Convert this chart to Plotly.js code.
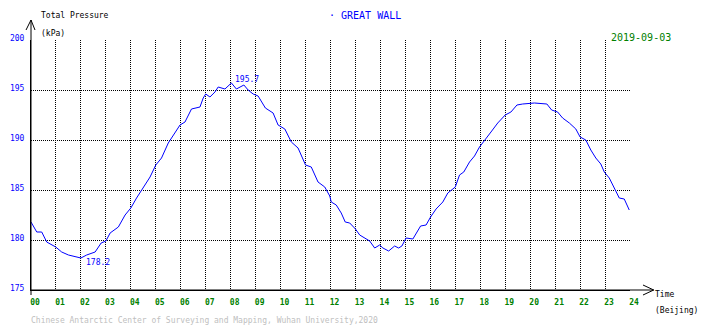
<!DOCTYPE html>
<html>
<head>
<meta charset="utf-8">
<script src="https://cdn.plot.ly/plotly-3.0.1.min.js"></script>
<style>html,body{margin:0;padding:0;background:#fff;}#chart{width:710px;height:328px;}</style>
</head>
<body>
<div id="chart"></div>
<script>
// Time of day (hours, Beijing time)
const hours = [0, 0.23, 0.43, 0.63, 0.99, 1.23, 1.5, 2.0, 2.23, 2.57, 2.81, 3.0, 3.17, 3.5, 3.77, 4.0, 4.23, 4.5, 4.77, 5.0,
  5.23, 5.5, 5.77, 5.97, 6.17, 6.43, 6.77, 6.9, 7.0, 7.17, 7.37, 7.5, 7.77, 8.03, 8.23, 8.53, 8.7, 8.9, 9.1, 9.39,
  9.7, 9.9, 10.17, 10.43, 10.7, 11.0, 11.23, 11.5, 11.77, 11.97, 12.03, 12.23, 12.43, 12.59, 12.77, 13.0, 13.17, 13.37, 13.57, 13.77,
  13.97, 14.1, 14.33, 14.57, 14.73, 14.86, 15.03, 15.3, 15.61, 15.83, 16.01, 16.23, 16.5, 16.7, 17.0, 17.17, 17.34, 17.57, 17.77, 17.97,
  18.17, 18.43, 18.7, 19.0, 19.23, 19.47, 19.7, 19.97, 20.17, 20.67, 20.86, 21.1, 21.3, 21.57, 21.83, 22.0, 22.23, 22.43, 22.63, 22.83,
  22.97, 23.17, 23.37, 23.57, 23.77, 23.97];
// Total pressure (kPa)
const pressure = [181.8, 180.8, 180.8, 179.8, 179.3, 178.8, 178.5, 178.2, 178.5, 178.8, 179.7, 179.9, 180.7, 181.3, 182.5, 183.2, 184.2, 185.3, 186.3, 187.5,
  188.2, 189.7, 190.8, 191.5, 191.8, 193.1, 193.3, 194.2, 194.6, 194.3, 194.8, 195.3, 195.1, 195.7, 195.1, 195.5, 195.0, 194.6, 194.4, 193.2,
  192.7, 191.5, 191.1, 189.8, 189.2, 187.5, 187.3, 185.8, 185.3, 184.4, 183.8, 183.5, 182.7, 181.8, 181.7, 181.1, 180.5, 180.2, 179.9, 179.2,
  179.5, 179.2, 178.9, 179.4, 179.2, 179.4, 180.2, 180.1, 181.4, 181.5, 182.3, 183.1, 183.8, 184.7, 185.3, 186.5, 186.8, 187.8, 188.4, 189.3,
  190.0, 190.8, 191.7, 192.5, 192.8, 193.5, 193.6, 193.7, 193.7, 193.6, 193.0, 192.8, 192.2, 191.7, 191.1, 190.3, 190.0, 189.0, 188.2, 187.6,
  186.8, 186.2, 185.2, 184.2, 184.1, 183.0];

const xTickVals = [0,1,2,3,4,5,6,7,8,9,10,11,12,13,14,15,16,17,18,19,20,21,22,23,24];
const xTickText = ["00","01","02","03","04","05","06","07","08","09","10","11","12","13","14","15","16","17","18","19","20","21","22","23","24"];
const yTickVals = [175, 180, 185, 190, 195, 200];
const yTickText = ["175", "180", "185", "190", "195", "200"];

const stationName = "GREAT WALL";
const dateText = "2019-09-03";
const yTitle = "Total Pressure";
const yUnit = "(kPa)";
const xTitle = "Time";
const xUnit = "(Beijing)";
const footer = "Chinese Antarctic Center of Surveying and Mapping, Wuhan University,2020";

const MONO = "DejaVu Sans Mono, Liberation Mono, monospace";
const BLUE = "#0000ff", GREEN = "#008000";

let iMax = 0, iMin = 0;
pressure.forEach((v, i) => { if (v > pressure[iMax]) iMax = i; if (v < pressure[iMin]) iMin = i; });

const trace = {
  x: hours, y: pressure, type: "scatter", mode: "lines",
  line: {color: BLUE, width: 1}, hoverinfo: "skip"
};

function txt(text, x, y, color, size, extra) {
  return Object.assign({text: text, xref: "paper", yref: "paper", x: x, y: y, showarrow: false,
    xanchor: "left", yanchor: "middle", font: {family: MONO, size: size, color: color}, borderpad: 0}, extra || {});
}

const layout = {
  width: 710, height: 328,
  margin: {l: 31, r: 80, t: 40, b: 38, pad: 0},
  paper_bgcolor: "#ffffff", plot_bgcolor: "#ffffff",
  showlegend: false,
  xaxis: {
    range: [0, 24], tickvals: xTickVals, ticktext: xTickText,
    showgrid: true, gridcolor: "#000000", gridwidth: 1, griddash: "1px,1px",
    zeroline: false, showline: true, linecolor: "#000000", linewidth: 1,
    ticks: "", tickfont: {family: MONO, size: 8, color: GREEN, weight: "bold"},
    ticklabelshift: 4, ticklabelstandoff: 4, fixedrange: true
  },
  yaxis: {
    range: [175, 200], tickvals: yTickVals, ticktext: yTickText,
    showgrid: true, gridcolor: "#000000", gridwidth: 1, griddash: "1px,1px",
    zeroline: false, showline: true, linecolor: "#000000", linewidth: 1,
    ticks: "", tickfont: {family: MONO, size: 8, color: BLUE},
    ticklabelshift: -2, ticklabelstandoff: 4, fixedrange: true
  },
  shapes: [
    {type: "path", xref: "paper", yref: "paper", layer: "above",
     path: "M 0,-0.02 L 0,1.08 M -0.0083,1.04 L 0,1.08 L 0.0067,1.04", line: {color: "#000000", width: 1}},
    {type: "path", xref: "paper", yref: "paper", layer: "above",
     path: "M 0,0 L 1.0396,0 M 1.0217,0.02 L 1.0396,0 L 1.0217,-0.02", line: {color: "#000000", width: 1}}
  ],
  annotations: [
    txt(yTitle, 0.0145, 1.096, "#000000", 8),
    txt(yUnit, 0.0145, 1.024, "#000000", 8),
    txt("\u00b7 " + stationName, 0.4958, 1.098, BLUE, 10),
    txt(dateText, 0.9664, 1.012, GREEN, 10),
    txt(xTitle, 1.04, -0.016, "#000000", 8),
    txt(xUnit, 1.04, -0.08, "#000000", 8),
    txt(footer, -0.0017, -0.12, "#c0c0c0", 8),
    {text: pressure[iMax].toFixed(1), x: hours[iMax], y: pressure[iMax], xref: "x", yref: "y",
     showarrow: false, xanchor: "left", yanchor: "middle", xshift: 3, yshift: 4, borderpad: 0,
     font: {family: MONO, size: 8, color: BLUE}},
    {text: pressure[iMin].toFixed(1), x: hours[iMin], y: pressure[iMin], xref: "x", yref: "y",
     showarrow: false, xanchor: "left", yanchor: "middle", xshift: 4, yshift: -4, borderpad: 0,
     font: {family: MONO, size: 8, color: BLUE}}
  ]
};

Plotly.newPlot("chart", [trace], layout, {staticPlot: true, displayModeBar: false});
</script>
</body>
</html>
